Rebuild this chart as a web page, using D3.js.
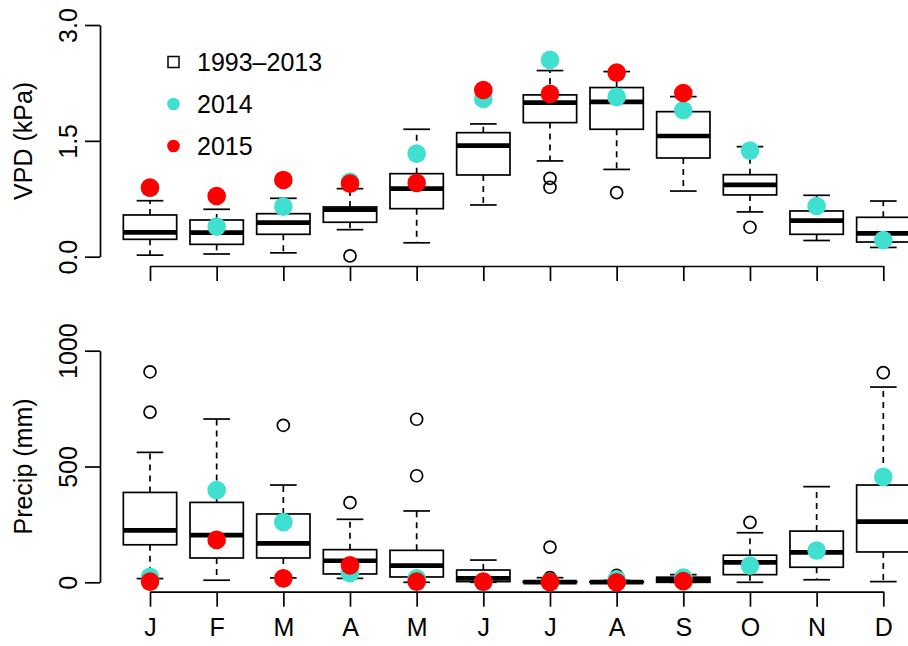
<!DOCTYPE html>
<html>
<head>
<meta charset="utf-8">
<script src="https://cdn.jsdelivr.net/npm/d3@7"></script>
<style>
  html, body { margin: 0; padding: 0; background: #fff; }
  svg { display: block; }
  text { font-family: "Liberation Sans", Arial, Helvetica, sans-serif; fill: #000; }
</style>
</head>
<body>
<svg id="chart" width="908" height="646"></svg>
<script>
// ---------- data ----------
const months = ["J","F","M","A","M","J","J","A","S","O","N","D"];

// VPD (kPa) boxplot stats, 1993-2013
const vpdLow  = [0.02, 0.035, 0.05, 0.35, 0.18, 0.67, 1.24, 1.13, 0.85, 0.58, 0.21, 0.12];
const vpdQ1   = [0.225, 0.16, 0.29, 0.446, 0.622, 1.058, 1.736, 1.65, 1.278, 0.80, 0.29, 0.19];
const vpdMed  = [0.316, 0.311, 0.44, 0.609, 0.881, 1.438, 1.995, 2.004, 1.563, 0.929, 0.466, 0.303];
const vpdQ3   = [0.54, 0.475, 0.557, 0.644, 1.075, 1.606, 2.095, 2.19, 1.878, 1.062, 0.592, 0.51];
const vpdHigh = [0.725, 0.614, 0.756, 0.881, 1.65, 1.719, 2.41, 2.397, 2.073, 1.425, 0.795, 0.721];
const vpdOut  = [[], [], [], [0.01], [], [], [1.015, 0.899], [0.829], [], [0.381], [], []];
const vpd2014 = [0.89, 0.389, 0.648, 0.97, 1.334, 2.043, 2.548, 2.069, 1.896, 1.373, 0.657, 0.216];
const vpd2015 = [0.894, 0.786, 0.994, 0.946, 0.955, 2.159, 2.108, 2.384, 2.12, null, null, null];
const vpdTicks = [0, 1.5, 3];

// Precip (mm) boxplot stats, 1993-2013
const pLow  = [16, 9, 19, 17, 0, 0, 0, 0, 0, 0, 11, 3];
const pQ1   = [162, 105, 105, 36, 23, 3, 0, 0, 0, 33, 65, 131];
const pMed  = [224, 204, 168, 93, 72, 17, 1, 1, 8, 86, 129, 262];
const pQ3   = [388, 345, 295, 141, 138, 53, 4, 3, 22, 117, 221, 420];
const pHigh = [561, 705, 420, 272, 308, 96, 20, 8, 33, 214, 413, 843];
const pOut  = [[909, 735], [], [678], [344], [704, 460], [], [152, 20], [30], [], [259], [], [905]];
const p2014 = [24, 398, 260, 39, 17, 1, 2, 13, 20, 72, 137, 455];
const p2015 = [3, 183, 17, 73, 3, 3, 1, 0, 5, null, null, null];
const pTicks = [0, 500, 1000];

const legendLabels = ["1993\u20132013", "2014", "2015"];
const col2014 = "#40E0D0", col2015 = "#FF0000";

// ---------- layout ----------
const svg = d3.select("#chart");
const lw = 1.7;
const fontSize = 25;
const x = d3.scaleLinear().domain([0, 11]).range([150, 883.3]);
const boxW = 0.8 * (x(1) - x(0));
const yAxisX = 100;

function panel(cfg) {
  const y = cfg.y;
  const g = svg.append("g");

  // y axis
  const ya = g.append("g").attr("transform", `translate(${yAxisX},0)`)
    .call(d3.axisLeft(y).tickValues(cfg.ticks).tickFormat(cfg.fmt).tickSize(15).tickSizeOuter(0));
  ya.selectAll("path, line").attr("stroke", "#000").attr("stroke-width", lw);
  ya.selectAll(".tick text")
    .attr("x", 0).attr("dy", 0)
    .attr("transform", "translate(-23,0) rotate(-90)")
    .attr("text-anchor", "middle")
    .style("font-size", fontSize + "px")
    .style("font-family", "'Liberation Sans', Arial, Helvetica, sans-serif");

  // x axis
  const xa = g.append("g").attr("transform", `translate(0,${cfg.xAxisY})`)
    .call(d3.axisBottom(x).tickValues(d3.range(12))
      .tickFormat(cfg.showMonths ? (i => months[i]) : () => "")
      .tickSize(15).tickSizeOuter(0).tickPadding(12));
  xa.selectAll("path, line").attr("stroke", "#000").attr("stroke-width", lw);
  xa.selectAll(".tick text")
    .style("font-size", fontSize + "px")
    .style("font-family", "'Liberation Sans', Arial, Helvetica, sans-serif");

  // y title
  const r = y.range();
  g.append("text")
    .attr("transform", `translate(31.5,${(r[0] + r[1]) / 2}) rotate(-90)`)
    .attr("text-anchor", "middle")
    .style("font-size", fontSize + "px")
    .text(cfg.title);

  // boxes
  const idx = d3.range(12);
  const bg = g.append("g");
  idx.forEach(i => {
    const cx = x(i);
    // whiskers (dashed)
    bg.append("line").attr("x1", cx).attr("x2", cx)
      .attr("y1", y(cfg.q3[i])).attr("y2", y(cfg.hi[i]))
      .attr("stroke", "#000").attr("stroke-width", lw).attr("stroke-dasharray", "6,5");
    bg.append("line").attr("x1", cx).attr("x2", cx)
      .attr("y1", y(cfg.q1[i])).attr("y2", y(cfg.lo[i]))
      .attr("stroke", "#000").attr("stroke-width", lw).attr("stroke-dasharray", "6,5");
    // staples
    [cfg.hi[i], cfg.lo[i]].forEach(v => {
      bg.append("line").attr("x1", cx - boxW / 4).attr("x2", cx + boxW / 4)
        .attr("y1", y(v)).attr("y2", y(v))
        .attr("stroke", "#000").attr("stroke-width", lw);
    });
    // box
    bg.append("rect").attr("x", cx - boxW / 2).attr("width", boxW)
      .attr("y", y(cfg.q3[i])).attr("height", Math.max(0, y(cfg.q1[i]) - y(cfg.q3[i])))
      .attr("fill", "#fff").attr("stroke", "#000").attr("stroke-width", lw);
    // median
    bg.append("line").attr("x1", cx - boxW / 2).attr("x2", cx + boxW / 2)
      .attr("y1", y(cfg.med[i])).attr("y2", y(cfg.med[i]))
      .attr("stroke", "#000").attr("stroke-width", 4.7);
    // outliers
    cfg.out[i].forEach(v => {
      bg.append("circle").attr("cx", cx).attr("cy", y(v)).attr("r", 6)
        .attr("fill", "none").attr("stroke", "#000").attr("stroke-width", lw);
    });
  });

  // yearly points
  const pr = 9.3;
  g.append("g").selectAll("circle").data(idx.filter(i => cfg.s2014[i] != null)).join("circle")
    .attr("cx", i => x(i)).attr("cy", i => y(cfg.s2014[i])).attr("r", pr).attr("fill", col2014);
  g.append("g").selectAll("circle").data(idx.filter(i => cfg.s2015[i] != null)).join("circle")
    .attr("cx", i => x(i)).attr("cy", i => y(cfg.s2015[i])).attr("r", pr).attr("fill", col2015);
}

panel({
  y: d3.scaleLinear().domain([0, 3]).range([256.7, 25]),
  ticks: vpdTicks, fmt: d3.format(".1f"), xAxisY: 266, showMonths: false,
  title: "VPD (kPa)",
  lo: vpdLow, q1: vpdQ1, med: vpdMed, q3: vpdQ3, hi: vpdHigh, out: vpdOut,
  s2014: vpd2014, s2015: vpd2015
});

panel({
  y: d3.scaleLinear().domain([0, 1000]).range([582.3, 350.7]),
  ticks: pTicks, fmt: d3.format("d"), xAxisY: 591.7, showMonths: true,
  title: "Precip (mm)",
  lo: pLow, q1: pQ1, med: pMed, q3: pQ3, hi: pHigh, out: pOut,
  s2014: p2014, s2015: p2015
});

// legend
const leg = svg.append("g");
const legY = [62, 104, 146];
leg.append("rect").attr("x", 168).attr("y", legY[0] - 5.5).attr("width", 11).attr("height", 11)
  .attr("fill", "none").attr("stroke", "#000").attr("stroke-width", 1.5);
leg.append("circle").attr("cx", 173.5).attr("cy", legY[1]).attr("r", 6.3).attr("fill", col2014);
leg.append("circle").attr("cx", 173.5).attr("cy", legY[2]).attr("r", 6.3).attr("fill", col2015);
leg.selectAll("text.lt").data(legendLabels).join("text").attr("class", "lt")
  .attr("x", 197).attr("y", (d, i) => legY[i]).attr("dy", "0.36em")
  .style("font-size", fontSize + "px").text(d => d);
</script>
</body>
</html>
